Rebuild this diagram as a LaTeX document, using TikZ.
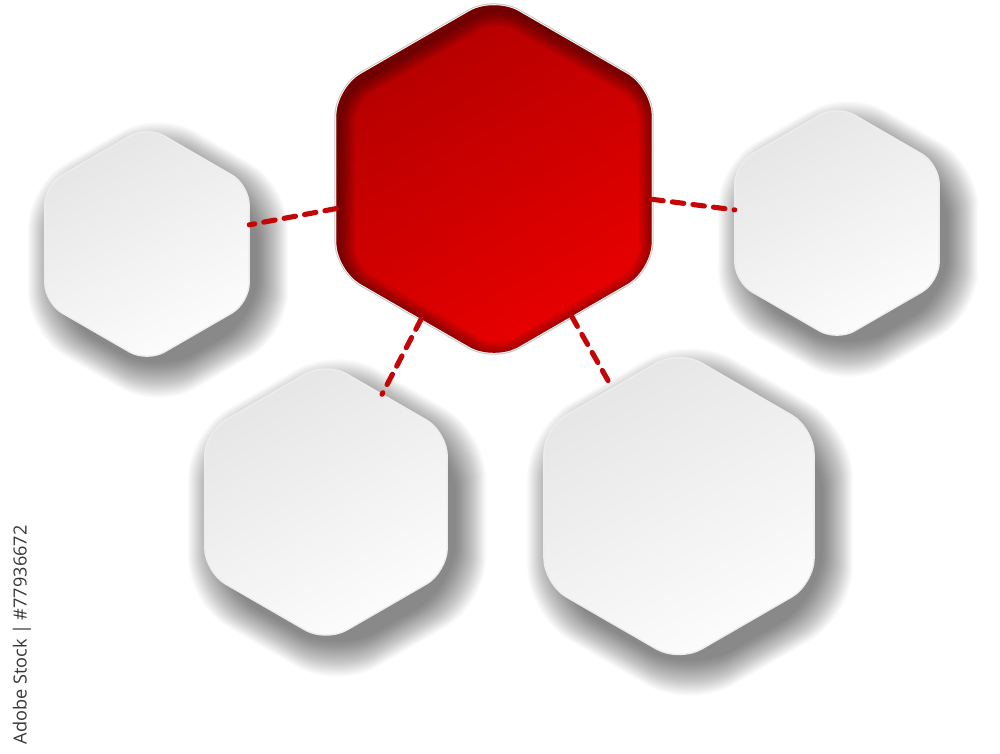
\documentclass[tikz,border=0pt]{standalone}
\usepackage{fontspec}
\newfontfamily\idfont{Open Sans}
\usetikzlibrary{shapes.geometric}
\definecolor{redA}{RGB}{178,0,0}
\definecolor{redB}{RGB}{234,0,0}
\definecolor{dashred}{RGB}{196,6,6}
\definecolor{idgray}{RGB}{55,55,55}
\newcommand\hexshape[4][]{%
  \path[#1] ({#2+0.8660*(#4)},{#3}) -- ({#2+0.8660*(#4)},{#3-0.5*(#4)}) -- ({#2},{#3-(#4)})
    -- ({#2-0.8660*(#4)},{#3-0.5*(#4)}) -- ({#2-0.8660*(#4)},{#3+0.5*(#4)}) -- ({#2},{#3+(#4)})
    -- ({#2+0.8660*(#4)},{#3+0.5*(#4)}) -- cycle;}
\newcommand\hexshadow[4]{%
  \foreach \k in {0,...,27}{%
    \hexshape[fill=black, fill opacity=0.02, shift={(11,16)}, rounded corners=#4]{#1}{#2}{#3+32-1.3*\k}}}
\newcommand\whitehex[4]{%
  \hexshape[shading=axis, top color=black!10, bottom color=black!1, shading angle=30,
    draw=black!7, line width=0.4pt, rounded corners=#4]{#1}{#2}{#3}}
\tikzset{
  hexnode/.style={regular polygon, regular polygon sides=6, shape border rotate=30,
    inner sep=0pt, outer sep=0pt, draw=none},
  conn/.style={draw=dashred, line width=1.45pt, line cap=round, dash pattern=on 3.3pt off 2.6pt}
}
\begin{document}
\begin{tikzpicture}[x=0.01cm, y=-0.01cm]
\useasboundingbox (0,0) rectangle (1000,753);
\fill[white] (0,0) rectangle (1000,753);
\clip (0,0) rectangle (1000,753);
% shadows
\hexshadow{147}{244}{118}{12pt}
\hexshadow{837}{223}{118}{12pt}
\hexshadow{326}{502}{140}{13pt}
\hexshadow{679}{506}{156}{14pt}
% white hexagons
\whitehex{147}{244}{118}{5.7pt}
\whitehex{837}{223}{118}{5.7pt}
\whitehex{326}{502}{140}{6.8pt}
\whitehex{679}{506}{156}{7.4pt}
% red cut-out hexagon
\hexshape[fill=black!22, rounded corners=8.4pt]{494}{179}{184.3}
\hexshape[fill=white, rounded corners=8.2pt]{494}{179}{183.1}
\hexshape[shading=axis, top color=redA, bottom color=redB, shading angle=30, rounded corners=8pt]{494}{179}{182}
\begin{scope}
  \hexshape[clip, rounded corners=8pt]{494}{179}{182}
  \foreach \w in {1,2,...,9}{%
    \hexshape[draw=black, draw opacity=0.05, line width=\w pt, shift={(3,5)}, rounded corners=8pt]{494}{179}{182}}
\end{scope}
% anchor nodes
\node[hexnode, minimum size=3.64cm] (C) at (494,179) {};
\node[hexnode, minimum size=2.36cm] (L) at (147,244) {};
\node[hexnode, minimum size=2.36cm] (R) at (837,223) {};
\node[hexnode, minimum size=2.80cm] (BL) at (326,502) {};
\node[hexnode, minimum size=3.12cm] (BR) at (679,506) {};
% connectors
\draw[conn] (C) -- (L);
\draw[conn] (C) -- (R);
\draw[conn] (C) -- (BL);
\draw[conn] (C) -- (BR);
% id text
\node[rotate=90, anchor=west, inner sep=0pt, text=idgray, font=\idfont\fontsize{5.15pt}{6pt}\selectfont] (id) at (22,745) {Adobe Stock | \#77936672};
\end{tikzpicture}
\end{document}
